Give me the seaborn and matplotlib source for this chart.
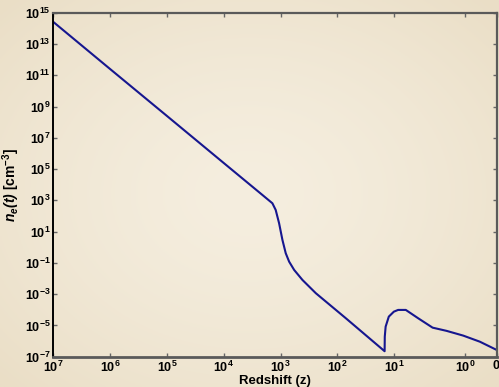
import numpy as np
import pandas as pd
import seaborn as sns
import matplotlib.pyplot as plt
import matplotlib as mpl

# free electron density vs redshift
redshift = [1e7, 1e6, 1e5, 1e4, 2085, 1390, 1216, 1059, 925, 809, 705, 575, 411, 239,
            70.8, 14.7, 14.6, 14.1, 12.4, 10.1, 8.78, 6.84, 4.58, 2.86, 1.82, 1.06, 0.53, 0.0]
n_e = [2.57e14, 2.5e11, 2.5e8, 2.45e5, 2.21e3, 650, 243, 34.3, 2.93, 0.413, 0.12, 0.0353,
       8.1e-3, 1.15e-3, 2.88e-5, 2.24e-7, 1.92e-6, 8.4e-6, 3.66e-5, 7.6e-5, 9.8e-5, 9.8e-5,
       2.88e-5, 7.2e-6, 4.5e-6, 2.24e-6, 9.1e-7, 2.7e-7]

x_ticks = [1e7, 1e6, 1e5, 1e4, 1e3, 1e2, 1e1, 1, 0]
x_labels = [r'$\mathbf{10^{7}}$', r'$\mathbf{10^{6}}$', r'$\mathbf{10^{5}}$', r'$\mathbf{10^{4}}$',
            r'$\mathbf{10^{3}}$', r'$\mathbf{10^{2}}$', r'$\mathbf{10^{1}}$', r'$\mathbf{10^{0}}$',
            r'$\mathbf{0}$']
y_exp = [15, 13, 11, 9, 7, 5, 3, 1, -1, -3, -5, -7]

df = pd.DataFrame({'z': redshift, 'ne': n_e})

sns.set_theme(style='ticks')
plt.rcParams['font.family'] = ['Liberation Sans', 'DejaVu Sans']
plt.rcParams['font.weight'] = 'bold'
plt.rcParams['mathtext.fontset'] = 'custom'
plt.rcParams['mathtext.rm'] = 'Liberation Sans'
plt.rcParams['mathtext.bf'] = 'Liberation Sans:bold'
plt.rcParams['mathtext.it'] = 'Liberation Sans:italic'
plt.rcParams['mathtext.bfit'] = 'Liberation Sans:bold:italic'

# the x axis of the original is log in z down to 10, then squeezed towards z=0
K1 = 70.7 / 56.7
K2 = 31.7 / 56.7

def fwd(z):
    z = np.asarray(z, dtype=float)
    with np.errstate(all='ignore'):
        lz = np.log10(np.clip(z, 1, None))
        p = np.where(z >= 10, np.log10(np.clip(z, 10, None)), 1 - (1 - lz) * K1)
        p = np.where(z < 1, (1 - K1) - (1 - z) * K2, p)
    return p

def inv(p):
    p = np.asarray(p, dtype=float)
    with np.errstate(all='ignore'):
        z = np.where(p >= 1, 10 ** np.clip(p, 1, 300), 10 ** (1 - (1 - np.clip(p, 1 - K1, 1)) / K1))
        z = np.where(p < 1 - K1, 1 - ((1 - K1) - p) / K2, z)
    return z

fig = plt.figure(figsize=(4.99, 3.87), dpi=100)

# parchment background
bg = fig.add_axes([0, 0, 1, 1], zorder=-10)
yy, xx = np.mgrid[-1:1:200j, -1:1:260j]
r = np.clip(np.sqrt(xx ** 2 + yy ** 2) / 1.4, 0, 1)
c0 = np.array([245, 238, 223]) / 255
c1 = np.array([234, 222, 198]) / 255
w = r[..., None] ** 1.5
img = c0[None, None, :] * (1 - w) + c1[None, None, :] * w
bg.imshow(img, aspect='auto', extent=[0, 1, 0, 1])
bg.axis('off')

ax = fig.add_axes([0.1068, 0.0783, 0.8886, 0.8889])
ax.set_facecolor('none')

sns.lineplot(data=df, x='z', y='ne', sort=False, estimator=None, color='#16168f', lw=1.5, ax=ax)

ax.set_yscale('log')
ax.set_xscale('function', functions=(fwd, inv))
ax.set_xlim(1e7, 0)
ax.set_ylim(1e-7, 1e15)

ax.set_xticks(x_ticks)
ax.set_xticklabels(x_labels)
ax.set_yticks([10.0 ** e for e in y_exp])
ax.set_yticklabels([r'$\mathbf{10^{%d}}$' % e for e in y_exp])
ax.xaxis.set_minor_locator(mpl.ticker.NullLocator())
ax.yaxis.set_minor_locator(mpl.ticker.NullLocator())

ax.tick_params(axis='both', which='major', direction='in', length=3, width=1,
               color='#666666', labelcolor='black', labelsize=9, pad=2, top=True, right=True)

ax.set_xlabel('Redshift (z)', fontsize=9.5, fontweight='bold', labelpad=0, color='black')
ax.set_ylabel(r'$\mathbfit{n_e(t)}$ [cm$^{\mathbf{-3}}$]', fontsize=10, fontweight='bold',
              labelpad=2, color='black')

ax.spines['left'].set_color('black')
ax.spines['left'].set_linewidth(1.4)
for s in ['bottom', 'top', 'right']:
    ax.spines[s].set_color('#5a5a5a')
    ax.spines[s].set_linewidth(1.6)
ax.spines['bottom'].set_linewidth(2)

fig.savefig('out.png', dpi=100)
